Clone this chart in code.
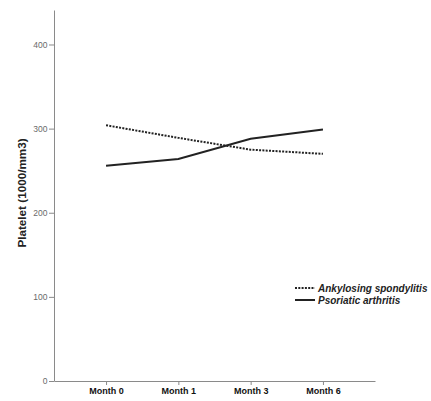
<!DOCTYPE html>
<html>
<head>
<meta charset="utf-8">
<script src="https://cdn.jsdelivr.net/npm/d3@7"></script>
<style>
	body { margin: 0; background: #fff; }
	svg { display: block; font-family: 'Liberation Sans', Arial, sans-serif; }
	.axis path, .axis line { stroke: #8a8a8a; }
	.y.axis text { fill: #6a6a6a; font-size: 8.5px; }
	.x.axis text { fill: #111; font-size: 9px; font-weight: bold; }
	.legend text { font-size: 10px; font-weight: bold; font-style: italic; fill: #222; }
</style>
</head>
<body>
<script>
// values
const months = ['Month 0', 'Month 1', 'Month 3', 'Month 6'];
const ankylosing = [304, 289, 275, 270];
const psoriatic = [256, 264, 288, 299];
const yTicks = [0, 100, 200, 300, 400];
const seriesNames = ['Ankylosing spondylitis', 'Psoriatic arthritis'];

const series = [
	{ name: seriesNames[0], values: ankylosing, dash: '2,1.3' },
	{ name: seriesNames[1], values: psoriatic, dash: null },
];

const width = 431;
const height = 401;

const svg = d3
	.select('body')
	.append('svg')
	.attr('width', width)
	.attr('height', height);

const xscale = d3
	.scalePoint()
	.domain(months)
	.range([54, 375])
	.padding(0.72);

const yscale = d3
	.scaleLinear()
	.domain([0, 441])
	.range([381, 10]);

const xAxis = d3
	.axisBottom(xscale)
	.tickSize(4)
	.tickSizeOuter(0)
	.tickPadding(3);

const yAxis = d3
	.axisLeft(yscale)
	.tickValues(yTicks)
	.tickSize(5)
	.tickSizeOuter(0)
	.tickPadding(1.5);

svg
	.append('g')
	.attr('class', 'y axis')
	.attr('transform', 'translate(54,0)')
	.call(yAxis)
	.call(g => g.selectAll('text').attr('font-family', null).attr('font-size', null));

svg
	.append('g')
	.attr('class', 'x axis')
	.attr('transform', 'translate(0,381)')
	.call(xAxis)
	.call(g => g.selectAll('text').attr('font-family', null).attr('font-size', null));

// y axis title
svg
	.append('text')
	.attr('transform', 'translate(26,193) rotate(-90)')
	.attr('text-anchor', 'middle')
	.style('font-size', '11.7px')
	.style('font-weight', 'bold')
	.style('fill', '#222')
	.text('Platelet (1000/mm3)');

const line = d3
	.line()
	.x((d, i) => xscale(months[i]))
	.y(d => yscale(d));

svg
	.selectAll('path.series')
	.data(series)
	.enter()
	.append('path')
	.attr('class', 'series')
	.attr('d', d => line(d.values))
	.attr('fill', 'none')
	.attr('stroke', '#222')
	.attr('stroke-width', 2)
	.attr('stroke-dasharray', d => d.dash);

const legend = svg
	.selectAll('.legend')
	.data(series)
	.enter()
	.append('g')
	.attr('class', 'legend')
	.attr('transform', (d, i) => `translate(295,${288 + i * 12})`);

legend
	.append('line')
	.attr('x1', 0)
	.attr('x2', 20)
	.attr('stroke', '#222')
	.attr('stroke-width', 2)
	.attr('stroke-dasharray', d => d.dash);

legend
	.append('text')
	.attr('x', 23)
	.attr('dy', '.35em')
	.text(d => d.name);
</script>
</body>
</html>
